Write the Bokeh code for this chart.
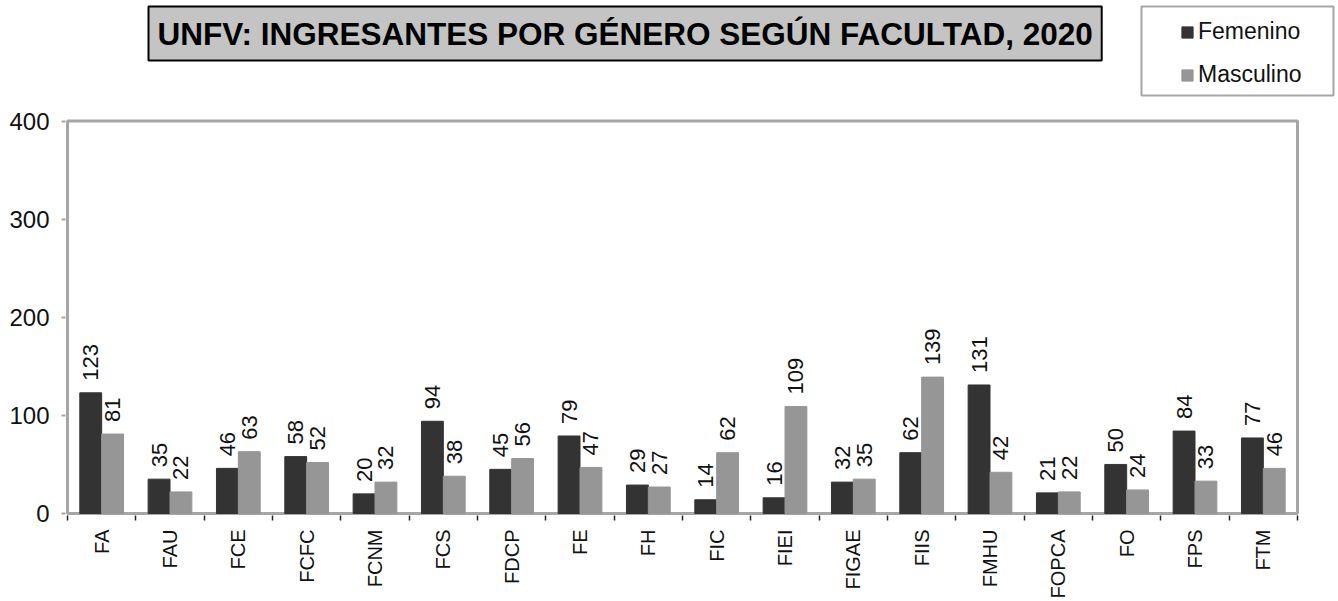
import numpy as np
from bokeh.plotting import figure
from bokeh.models import (ColumnDataSource, FixedTicker, Legend, LegendItem, Label, Range1d,
                          BoxAnnotation)
from bokeh.core.properties import value
from bokeh.embed import file_html
from bokeh.resources import INLINE

categories = ["FA", "FAU", "FCE", "FCFC", "FCNM", "FCS", "FDCP", "FE", "FH", "FIC",
              "FIEI", "FIGAE", "FIIS", "FMHU", "FOPCA", "FO", "FPS", "FTM"]
femenino = [123, 35, 46, 58, 20, 94, 45, 79, 29, 14, 16, 32, 62, 131, 21, 50, 84, 77]
masculino = [81, 22, 63, 52, 32, 38, 56, 47, 27, 62, 109, 35, 139, 42, 22, 24, 33, 46]
y_ticks = [0, 100, 200, 300, 400]
title_text = "UNFV: INGRESANTES POR GÉNERO SEGÚN FACULTAD, 2020"

FONT = "Liberation Sans"
DARK = "#333333"
GRAY = "#969696"
AXIS_GRAY = "#a6a6a6"

n = len(categories)
centers = np.arange(n) + 0.5
bw = 0.32

# layout geometry (pixels)
W, H = 1338, 601
box_left_px, box_right_px, box_top_px, box_bottom_px = 67, 1297, 121, 515
frame_left_px, frame_bottom_px = 65, 517
px_per_x = (box_right_px - box_left_px) / n
px_per_y = (box_bottom_px - box_top_px) / y_ticks[-1]
x_start = -(box_left_px - frame_left_px) / px_per_x
x_end = n + (W - box_right_px) / px_per_x
y_start = -(frame_bottom_px - box_bottom_px) / px_per_y
y_end = y_ticks[-1] + box_top_px / px_per_y

src = ColumnDataSource(dict(
    xf=centers - bw / 2, xm=centers + bw / 2,
    fem=femenino, mas=masculino,
    fem_lbl=[str(v) for v in femenino], mas_lbl=[str(v) for v in masculino],
))

p = figure(width=W, height=H, output_backend="svg", toolbar_location=None,
           x_range=Range1d(x_start, x_end), y_range=Range1d(y_start, y_end),
           min_border_left=frame_left_px, min_border_right=0, min_border_top=0,
           min_border_bottom=H - frame_bottom_px)
p.background_fill_color = "white"
p.border_fill_color = "white"
p.xgrid.visible = False
p.ygrid.visible = False
p.outline_line_color = None

# chart box
p.quad(left=[0], right=[n], bottom=[0], top=[y_ticks[-1]], fill_color=None,
       line_color=AXIS_GRAY, line_width=3)

rf = p.vbar(x="xf", top="fem", width=bw, source=src, fill_color=DARK, line_color=DARK)
rm = p.vbar(x="xm", top="mas", width=bw, source=src, fill_color=GRAY, line_color=GRAY)

for xcol, ycol, tcol in (("xf", "fem", "fem_lbl"), ("xm", "mas", "mas_lbl")):
    p.text(x=xcol, y=ycol, text=tcol, source=src, angle=np.pi / 2,
           text_align="left", text_baseline="middle", y_offset=-12,
           text_font=value(FONT), text_font_size="22px", text_color="#111111")

# x axis
xa = p.xaxis[0]
xa.ticker = FixedTicker(ticks=list(centers), minor_ticks=list(np.arange(n + 1)))
xa.major_label_overrides = {float(c): cat for c, cat in zip(centers, categories)}
xa.major_label_orientation = np.pi / 2
xa.major_tick_line_color = None
xa.major_tick_out = 0
xa.major_tick_in = 0
xa.minor_tick_line_color = "#222222"
xa.minor_tick_line_width = 1.5
xa.minor_tick_out = 5
xa.minor_tick_in = 0
xa.axis_line_color = None
xa.major_label_text_font = FONT
xa.major_label_text_font_size = "20px"
xa.major_label_text_color = "#111111"
xa.major_label_standoff = 9

# y axis
ya = p.yaxis[0]
ya.ticker = FixedTicker(ticks=y_ticks)
ya.axis_line_color = None
ya.major_tick_line_color = AXIS_GRAY
ya.major_tick_line_width = 2
ya.major_tick_out = 4
ya.major_tick_in = 0
ya.minor_tick_line_color = None
ya.major_label_text_font = FONT
ya.major_label_text_font_size = "24px"
ya.major_label_text_color = "#111111"
ya.major_label_standoff = 12

# legend box + legend
leg_box = BoxAnnotation(left=1141 - frame_left_px, right=1333 - frame_left_px,
                        top=frame_bottom_px - 8, bottom=frame_bottom_px - 97,
                        left_units="screen", right_units="screen",
                        top_units="screen", bottom_units="screen",
                        fill_color="white", fill_alpha=1.0,
                        line_color=AXIS_GRAY, line_width=2, line_alpha=1.0)
p.add_layout(leg_box)

legend = Legend(items=[LegendItem(label="Femenino", renderers=[rf]),
                       LegendItem(label="Masculino", renderers=[rm])],
                location="top_right", orientation="vertical",
                glyph_width=14, glyph_height=14, label_standoff=4,
                label_text_font=FONT, label_text_font_size="23px", label_text_color="#111111",
                label_width=122, padding=0, spacing=16, margin=18,
                border_line_color=None, background_fill_alpha=0.0)
p.add_layout(legend, "center")

# title box with shadow
tx = 148 - frame_left_px
ty = frame_bottom_px - 8
shadow = Label(x=tx + 4, y=ty - 4, x_units="screen", y_units="screen", text=title_text,
               text_font=FONT, text_font_size="31.5px", text_font_style="bold",
               text_align="left", text_baseline="top", text_alpha=0.0,
               padding=9, background_fill_color="#555555", background_fill_alpha=0.4)
title = Label(x=tx, y=ty, x_units="screen", y_units="screen", text=title_text,
              text_font=FONT, text_font_size="31.5px", text_font_style="bold",
              text_align="left", text_baseline="top", text_color="black",
              padding=9, background_fill_color="#c4c4c4", background_fill_alpha=1.0,
              border_line_color="black", border_line_width=2)
p.add_layout(shadow)
p.add_layout(title)

open("out.html", "w").write(file_html(p, INLINE))
